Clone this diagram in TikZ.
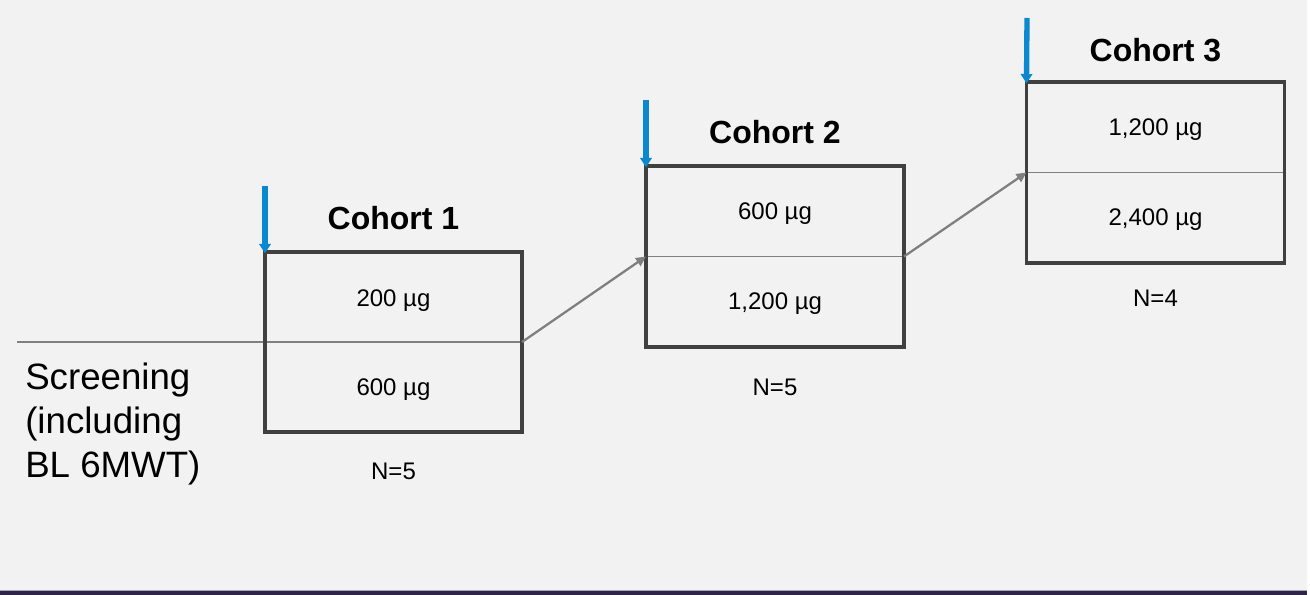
\documentclass[tikz,border=0pt]{standalone}
\usepackage{fontspec}
\setmainfont{Liberation Sans}
\usetikzlibrary{arrows.meta}
\pgfdeclarelayer{back}
\pgfsetlayers{back,main}
\definecolor{bgc}{HTML}{F2F2F2}
\definecolor{boxc}{HTML}{404040}
\definecolor{linec}{HTML}{7F7F7F}
\definecolor{bluec}{HTML}{0A88D0}
\definecolor{barc}{HTML}{2E2549}
\definecolor{barhi}{HTML}{A8A4B4}
\tikzset{
  cohortbox/.style={draw=boxc, line width=2.4pt, rectangle, outer sep=0pt, inner sep=0pt},
  divider/.style={draw=linec, line width=1pt},
  conn/.style={draw=linec, line width=1.7pt, -{Triangle[length=7.5pt,width=7pt]}},
  dosearrow/.style={draw=bluec, line width=4pt, -{Triangle[length=7pt,width=8.5pt]}, shorten >=-1pt},
  title/.style={font=\fontsize{24}{28}\selectfont\bfseries, anchor=base, inner sep=0pt},
  dose/.style={font=\fontsize{18}{21}\selectfont, anchor=base, inner sep=0pt},
  count/.style={font=\fontsize{18}{21}\selectfont, anchor=base, inner sep=0pt},
  side/.style={font=\fontsize{27.5}{33}\selectfont, anchor=base west, align=left, inner sep=0pt},
}
\begin{document}
\begin{tikzpicture}[x=0.75pt, y=-0.75pt]
  % page and background
  \useasboundingbox (0,0) rectangle (1310,595);
  \begin{pgfonlayer}{back}
    \fill[white] (0,0) rectangle (1310,595);
    \fill[bgc] (0,0) rectangle (1307,590);
    \fill[barc] (0,590) rectangle (1307,595);
    \draw[barhi, line width=0.6pt] (0,590.4) -- (1307,590.4);
  \end{pgfonlayer}

  % cohort boxes
  \node[cohortbox, minimum width=192.75pt, minimum height=135pt] (c1) at (393.5,342) {};
  \node[cohortbox, minimum width=193.5pt, minimum height=135.75pt] (c2) at (775,256.5) {};
  \node[cohortbox, minimum width=193.5pt, minimum height=135.75pt] (c3) at (1155.5,172.5) {};

  % screening timeline and box dividers, kept under the box outlines
  \coordinate (scr) at (17,342);
  \begin{pgfonlayer}{back}
    \draw[divider] (scr) -- (c1.east);
    \draw[divider] (c2.west) -- (c2.east);
    \draw[divider] (c3.west) -- (c3.east);
  \end{pgfonlayer}

  % escalation connectors
  \draw[conn] (c1.east) -- (c2.west);
  \draw[conn] (c2.east) -- (c3.west);

  % dosing arrows
  \coordinate (b1) at (265,186);
  \coordinate (b2) at (646,100);
  \coordinate (b3) at (1027,18);
  \draw[dosearrow] (b1) -- (c1.north west);
  \draw[dosearrow] (b2) -- (c2.north west);
  \draw[dosearrow] (b3) -- (c3.north west);

  % titles
  \node[title] (t1) at (393.5,230) {Cohort 1};
  \node[title] (t2) at (775,144) {Cohort 2};
  \node[title] (t3) at (1155.5,62) {Cohort 3};

  % doses
  \node[dose] (d1a) at (393.5,306) {200 µg};
  \node[dose] (d1b) at (393.5,395) {600 µg};
  \node[dose] (d2a) at (775,220) {600 µg};
  \node[dose] (d2b) at (775,310) {1,200 µg};
  \node[dose] (d3a) at (1155.5,136) {1,200 µg};
  \node[dose] (d3b) at (1155.5,226) {2,400 µg};

  % group sizes
  \node[count] (n1) at (393.5,479) {N=5};
  \node[count] (n2) at (775,395) {N=5};
  \node[count] (n3) at (1155.5,306) {N=4};

  % screening label (anchored on the baseline of its last line)
  \node[side] (s) at (25,477) {Screening\\(including\\BL 6MWT)};
\end{tikzpicture}
\end{document}
